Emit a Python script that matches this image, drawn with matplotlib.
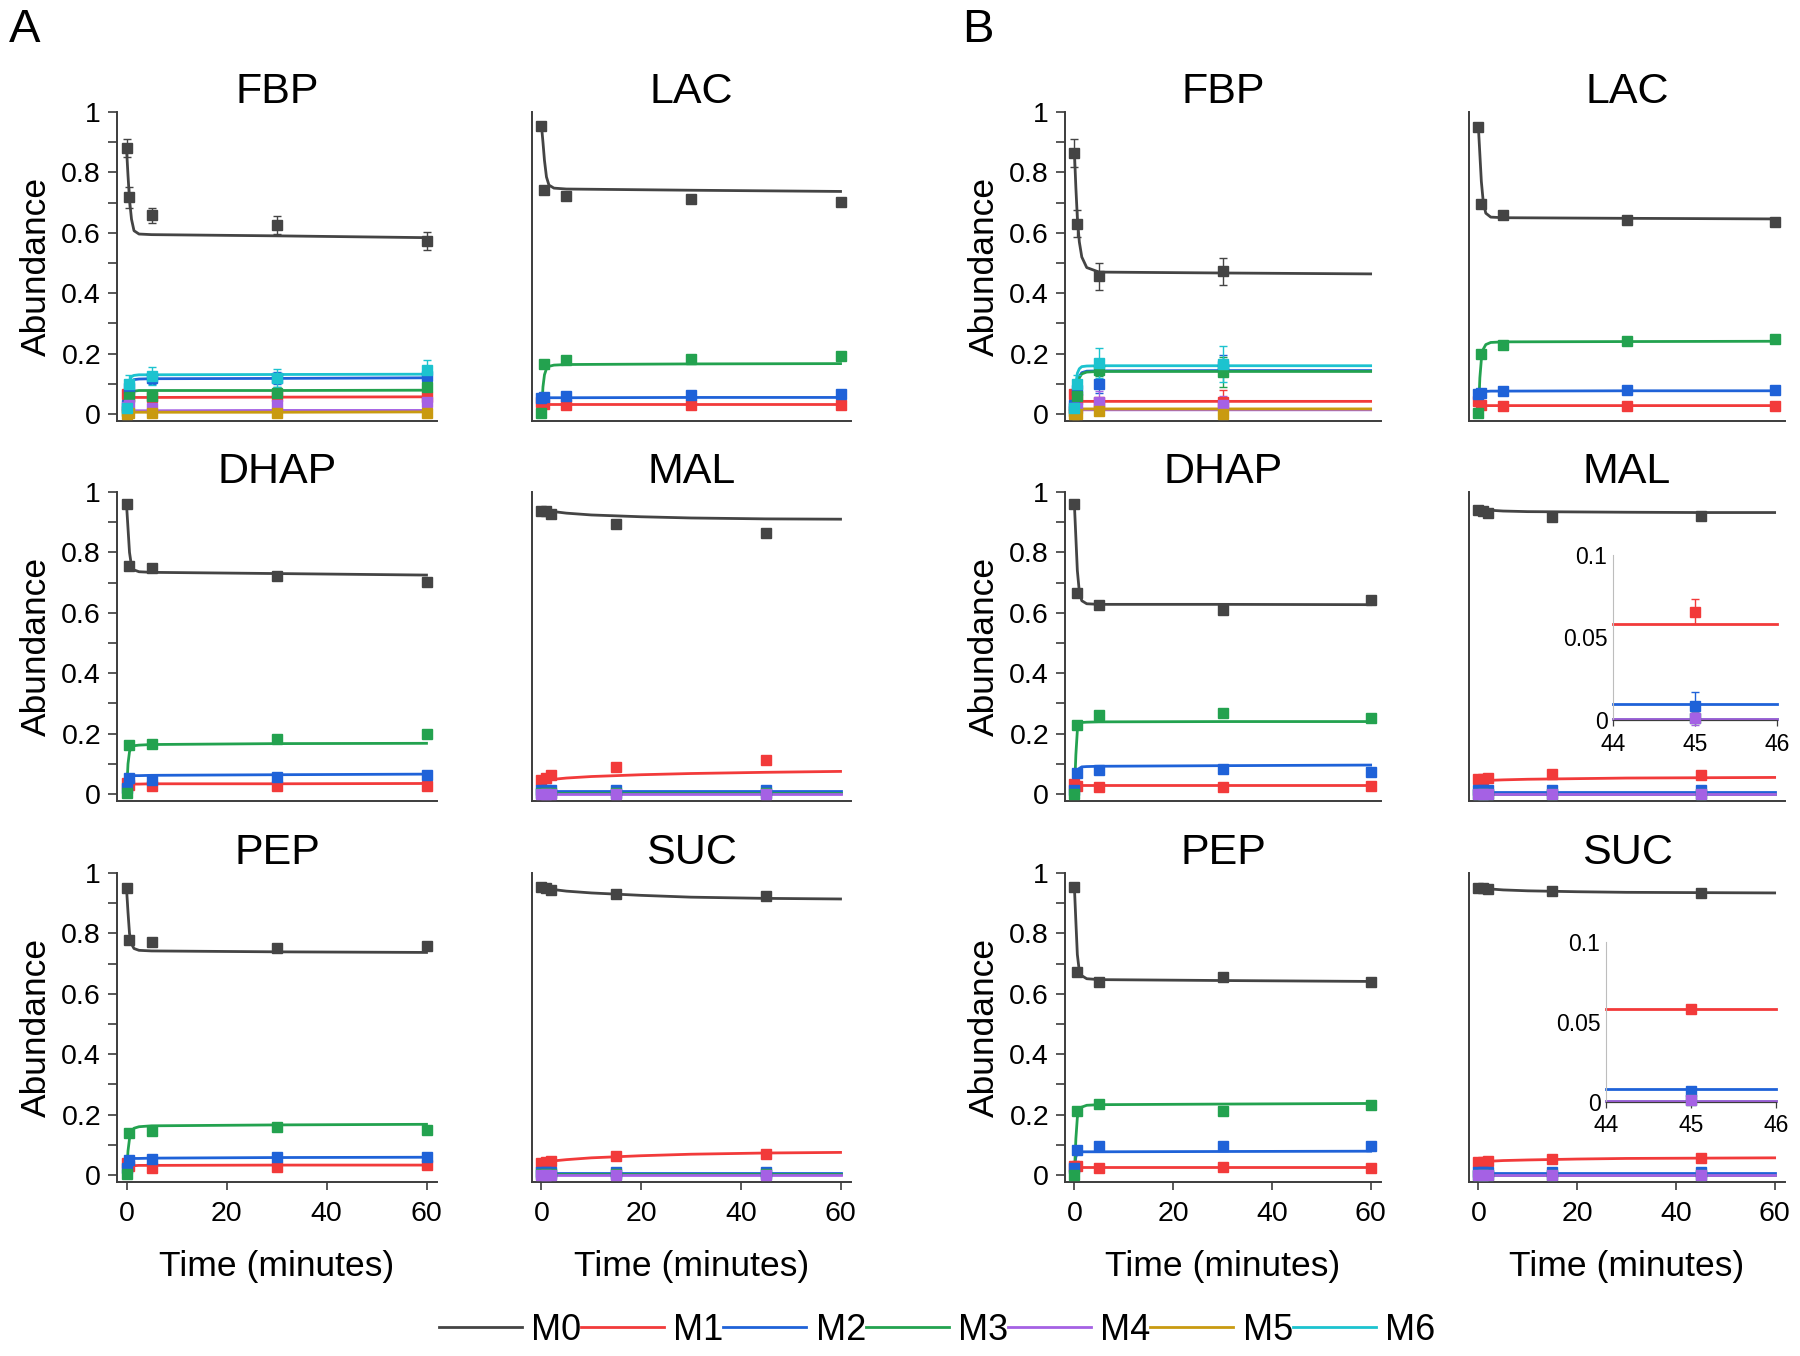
import matplotlib
matplotlib.use("Agg")
import matplotlib.pyplot as plt
from matplotlib.lines import Line2D

plt.rcParams["font.family"] = ["Liberation Sans", "DejaVu Sans"]

ISOTOPOLOGUES = ["M0", "M1", "M2", "M3", "M4", "M5", "M6"]
COLORS = {
    "M0": "#444444",
    "M1": "#f23a3a",
    "M2": "#1f62d8",
    "M3": "#23a24f",
    "M4": "#a561e4",
    "M5": "#c99a10",
    "M6": "#1cc3cf",
}

# sampling times (minutes)
T_GLY = [0, 0.5, 5, 30, 60]
T_GLY_B_FBP = [0, 0.5, 5, 30]
T_TCA = [0, 1, 2, 15, 45]
# time grid of the fitted curves
FIT_T_GLY = [0, 0.3, 0.6, 1, 1.5, 2.5, 5, 30, 60]
FIT_T_TCA = [0, 5, 10, 20, 30, 45, 60]

# ---- A ----
A_FBP_MEAN = {
    "M0": [0.881, 0.718, 0.658, 0.625, 0.572],
    "M1": [0.065, 0.060, 0.058, 0.060, 0.055],
    "M2": [0.030, 0.085, 0.118, 0.118, 0.125],
    "M3": [0.010, 0.055, 0.060, 0.070, 0.090],
    "M4": [0.025, 0.030, 0.020, 0.030, 0.040],
    "M5": [0.000, 0.005, 0.003, 0.003, 0.004],
    "M6": [0.020, 0.100, 0.125, 0.120, 0.145],
}
A_FBP_ERR = {
    "M0": [0.030, 0.035, 0.025, 0.030, 0.030],
    "M1": [0.010, 0.030, 0.010, 0.010, 0.010],
    "M2": [0.010, 0.020, 0.020, 0.020, 0.030],
    "M3": [0.010, 0.020, 0.020, 0.020, 0.020],
    "M4": [0.010, 0.010, 0.010, 0.010, 0.010],
    "M5": [0.005, 0.005, 0.005, 0.005, 0.005],
    "M6": [0.010, 0.030, 0.030, 0.030, 0.035],
}
A_FBP_FIT = {
    "M0": [0.880, 0.790, 0.710, 0.645, 0.607, 0.596, 0.594, 0.590, 0.584],
    "M1": [0.060, 0.058, 0.056, 0.055, 0.055, 0.055, 0.055, 0.056, 0.057],
    "M2": [0.010, 0.060, 0.090, 0.108, 0.114, 0.116, 0.117, 0.118, 0.120],
    "M3": [0.010, 0.040, 0.060, 0.072, 0.076, 0.078, 0.078, 0.078, 0.079],
    "M4": [0.010, 0.010, 0.011, 0.011, 0.011, 0.011, 0.011, 0.012, 0.012],
    "M5": [0.002, 0.004, 0.005, 0.006, 0.006, 0.006, 0.006, 0.006, 0.007],
    "M6": [0.020, 0.080, 0.110, 0.124, 0.128, 0.130, 0.130, 0.131, 0.132],
}

A_LAC_MEAN = {
    "M0": [0.955, 0.743, 0.721, 0.713, 0.702],
    "M1": [0.039, 0.034, 0.031, 0.031, 0.031],
    "M2": [0.053, 0.055, 0.061, 0.064, 0.067],
    "M3": [0.003, 0.167, 0.180, 0.182, 0.193],
}
A_LAC_FIT = {
    "M0": [0.955, 0.900, 0.840, 0.785, 0.758, 0.748, 0.745, 0.741, 0.737],
    "M1": [0.033, 0.033, 0.033, 0.033, 0.033, 0.033, 0.033, 0.033, 0.033],
    "M2": [0.050, 0.053, 0.054, 0.054, 0.054, 0.054, 0.054, 0.055, 0.055],
    "M3": [0.000, 0.090, 0.130, 0.150, 0.158, 0.162, 0.164, 0.166, 0.167],
}

A_DHAP_MEAN = {
    "M0": [0.960, 0.754, 0.747, 0.721, 0.701],
    "M1": [0.036, 0.030, 0.028, 0.028, 0.028],
    "M2": [0.020, 0.053, 0.047, 0.056, 0.064],
    "M3": [0.003, 0.163, 0.167, 0.182, 0.199],
}
A_DHAP_FIT = {
    "M0": [0.960, 0.880, 0.800, 0.755, 0.742, 0.736, 0.734, 0.730, 0.725],
    "M1": [0.033, 0.033, 0.033, 0.033, 0.033, 0.033, 0.034, 0.034, 0.035],
    "M2": [0.020, 0.050, 0.058, 0.060, 0.061, 0.061, 0.062, 0.064, 0.066],
    "M3": [0.000, 0.100, 0.140, 0.155, 0.160, 0.162, 0.164, 0.167, 0.168],
}

A_PEP_MEAN = {
    "M0": [0.950, 0.779, 0.770, 0.751, 0.757],
    "M1": [0.039, 0.030, 0.022, 0.028, 0.033],
    "M2": [0.022, 0.050, 0.053, 0.059, 0.061],
    "M3": [0.002, 0.138, 0.146, 0.158, 0.149],
}
A_PEP_FIT = {
    "M0": [0.950, 0.870, 0.800, 0.765, 0.750, 0.744, 0.742, 0.739, 0.737],
    "M1": [0.030, 0.031, 0.031, 0.031, 0.031, 0.032, 0.032, 0.033, 0.033],
    "M2": [0.020, 0.045, 0.052, 0.054, 0.055, 0.055, 0.056, 0.058, 0.059],
    "M3": [0.000, 0.080, 0.120, 0.145, 0.155, 0.160, 0.163, 0.166, 0.168],
}

A_MAL_MEAN = {
    "M0": [0.938, 0.936, 0.928, 0.895, 0.864],
    "M1": [0.047, 0.053, 0.064, 0.089, 0.114],
    "M2": [0.014, 0.014, 0.014, 0.014, 0.014],
    "M3": [0.002, 0.002, 0.002, 0.002, 0.002],
    "M4": [0.000, 0.000, 0.000, 0.000, 0.000],
}
A_MAL_FIT = {
    "M0": [0.940, 0.930, 0.924, 0.918, 0.914, 0.911, 0.910],
    "M1": [0.045, 0.053, 0.058, 0.064, 0.068, 0.072, 0.075],
    "M2": [0.009, 0.009, 0.009, 0.009, 0.009, 0.009, 0.009],
    "M3": [0.002, 0.002, 0.002, 0.002, 0.002, 0.002, 0.002],
    "M4": [0.001, 0.001, 0.001, 0.001, 0.001, 0.001, 0.001],
}

A_SUC_MEAN = {
    "M0": [0.952, 0.950, 0.945, 0.931, 0.923],
    "M1": [0.041, 0.044, 0.048, 0.063, 0.070],
    "M2": [0.011, 0.011, 0.011, 0.011, 0.011],
    "M3": [0.002, 0.002, 0.002, 0.002, 0.002],
    "M4": [0.001, 0.001, 0.001, 0.001, 0.001],
}
A_SUC_FIT = {
    "M0": [0.950, 0.940, 0.934, 0.926, 0.920, 0.916, 0.914],
    "M1": [0.043, 0.051, 0.057, 0.064, 0.069, 0.073, 0.075],
    "M2": [0.008, 0.008, 0.008, 0.008, 0.008, 0.008, 0.008],
    "M3": [0.002, 0.002, 0.002, 0.002, 0.002, 0.002, 0.002],
    "M4": [0.001, 0.001, 0.001, 0.001, 0.001, 0.001, 0.001],
}

# ---- B ----
B_FBP_MEAN = {
    "M0": [0.864, 0.630, 0.456, 0.472],
    "M1": [0.065, 0.050, 0.040, 0.040],
    "M2": [0.030, 0.080, 0.100, 0.160],
    "M3": [0.010, 0.060, 0.145, 0.140],
    "M4": [0.020, 0.020, 0.040, 0.030],
    "M5": [0.000, 0.000, 0.010, 0.000],
    "M6": [0.020, 0.100, 0.170, 0.165],
}
B_FBP_ERR = {
    "M0": [0.045, 0.045, 0.045, 0.045],
    "M1": [0.010, 0.010, 0.010, 0.040],
    "M2": [0.010, 0.020, 0.030, 0.035],
    "M3": [0.010, 0.020, 0.020, 0.050],
    "M4": [0.010, 0.010, 0.035, 0.030],
    "M5": [0.005, 0.005, 0.010, 0.010],
    "M6": [0.010, 0.030, 0.050, 0.060],
}
B_FBP_FIT = {
    "M0": [0.870, 0.750, 0.650, 0.570, 0.520, 0.485, 0.470, 0.467, 0.464],
    "M1": [0.060, 0.050, 0.045, 0.043, 0.042, 0.042, 0.042, 0.042, 0.042],
    "M2": [0.020, 0.070, 0.100, 0.125, 0.137, 0.142, 0.143, 0.144, 0.144],
    "M3": [0.005, 0.060, 0.095, 0.120, 0.133, 0.139, 0.141, 0.141, 0.141],
    "M4": [0.005, 0.010, 0.012, 0.013, 0.014, 0.014, 0.014, 0.014, 0.014],
    "M5": [0.002, 0.010, 0.014, 0.016, 0.017, 0.017, 0.017, 0.017, 0.017],
    "M6": [0.020, 0.100, 0.135, 0.150, 0.157, 0.159, 0.160, 0.160, 0.160],
}

B_LAC_MEAN = {
    "M0": [0.951, 0.697, 0.659, 0.644, 0.636],
    "M1": [0.042, 0.030, 0.027, 0.027, 0.027],
    "M2": [0.068, 0.070, 0.076, 0.080, 0.080],
    "M3": [0.005, 0.200, 0.230, 0.242, 0.250],
}
B_LAC_FIT = {
    "M0": [0.951, 0.860, 0.770, 0.700, 0.665, 0.652, 0.650, 0.648, 0.646],
    "M1": [0.030, 0.029, 0.028, 0.028, 0.028, 0.028, 0.028, 0.028, 0.028],
    "M2": [0.060, 0.068, 0.072, 0.074, 0.075, 0.076, 0.076, 0.077, 0.077],
    "M3": [0.000, 0.120, 0.180, 0.215, 0.230, 0.237, 0.239, 0.240, 0.241],
}

B_DHAP_MEAN = {
    "M0": [0.960, 0.666, 0.625, 0.610, 0.643],
    "M1": [0.034, 0.028, 0.023, 0.023, 0.028],
    "M2": [0.014, 0.070, 0.078, 0.083, 0.072],
    "M3": [0.000, 0.230, 0.263, 0.268, 0.252],
}
B_DHAP_FIT = {
    "M0": [0.960, 0.850, 0.740, 0.670, 0.640, 0.630, 0.628, 0.628, 0.627],
    "M1": [0.030, 0.030, 0.030, 0.030, 0.030, 0.030, 0.030, 0.030, 0.030],
    "M2": [0.015, 0.050, 0.075, 0.085, 0.090, 0.091, 0.092, 0.094, 0.096],
    "M3": [0.000, 0.130, 0.210, 0.232, 0.237, 0.238, 0.239, 0.240, 0.240],
}

B_PEP_MEAN = {
    "M0": [0.954, 0.672, 0.638, 0.657, 0.638],
    "M1": [0.030, 0.030, 0.025, 0.028, 0.025],
    "M2": [0.022, 0.083, 0.097, 0.097, 0.097],
    "M3": [0.000, 0.213, 0.235, 0.213, 0.232],
}
B_PEP_FIT = {
    "M0": [0.955, 0.840, 0.730, 0.675, 0.660, 0.650, 0.647, 0.644, 0.641],
    "M1": [0.028, 0.028, 0.028, 0.028, 0.028, 0.028, 0.028, 0.028, 0.028],
    "M2": [0.020, 0.060, 0.072, 0.076, 0.077, 0.077, 0.077, 0.078, 0.079],
    "M3": [0.000, 0.120, 0.190, 0.215, 0.225, 0.231, 0.233, 0.235, 0.237],
}

B_MAL_MEAN = {
    "M0": [0.940, 0.938, 0.932, 0.916, 0.921],
    "M1": [0.049, 0.049, 0.052, 0.068, 0.063],
    "M2": [0.015, 0.015, 0.015, 0.015, 0.015],
    "M3": [0.001, 0.001, 0.001, 0.001, 0.001],
    "M4": [0.000, 0.000, 0.000, 0.000, 0.000],
}
B_MAL_FIT = {
    "M0": [0.942, 0.937, 0.935, 0.934, 0.933, 0.932, 0.932],
    "M1": [0.044, 0.047, 0.049, 0.051, 0.053, 0.054, 0.055],
    "M2": [0.008, 0.008, 0.008, 0.008, 0.008, 0.008, 0.008],
    "M3": [0.001, 0.001, 0.001, 0.001, 0.001, 0.001, 0.001],
    "M4": [0.001, 0.001, 0.001, 0.001, 0.001, 0.001, 0.001],
}

B_SUC_MEAN = {
    "M0": [0.951, 0.950, 0.947, 0.940, 0.935],
    "M1": [0.044, 0.044, 0.046, 0.052, 0.057],
    "M2": [0.010, 0.010, 0.010, 0.010, 0.010],
    "M3": [0.001, 0.001, 0.001, 0.001, 0.001],
    "M4": [0.000, 0.000, 0.000, 0.000, 0.000],
}
B_SUC_FIT = {
    "M0": [0.950, 0.944, 0.941, 0.938, 0.936, 0.935, 0.934],
    "M1": [0.044, 0.048, 0.050, 0.053, 0.055, 0.056, 0.057],
    "M2": [0.008, 0.008, 0.008, 0.008, 0.008, 0.008, 0.008],
    "M3": [0.001, 0.001, 0.001, 0.001, 0.001, 0.001, 0.001],
    "M4": [0.001, 0.001, 0.001, 0.001, 0.001, 0.001, 0.001],
}

# zoomed insets around t = 45 min
INSET_FIT_T = [44, 46]
INSET_PT_T = [45]
B_MAL_INSET_FIT = {"M1": [0.058, 0.058], "M2": [0.010, 0.010], "M3": [0.0005, 0.0005], "M4": [0.0005, 0.0005]}
B_MAL_INSET_MEAN = {"M1": [0.0657], "M2": [0.0087], "M3": [0.0015], "M4": [0.0010]}
B_MAL_INSET_ERR = {"M1": [0.0075], "M2": [0.0080], "M3": [0.0010], "M4": [0.0040]}
B_SUC_INSET_FIT = {"M1": [0.058, 0.058], "M2": [0.0083, 0.0083], "M3": [0.0004, 0.0004], "M4": [0.0004, 0.0004]}
B_SUC_INSET_MEAN = {"M1": [0.058], "M2": [0.0069], "M3": [0.0010], "M4": [0.0010]}
B_SUC_INSET_ERR = {"M1": [0.0010], "M2": [0.0010], "M3": [0.0005], "M4": [0.0005]}

PANELS = [
    # row, col, title, times, mean, err, fit_t, fit
    (0, 0, "FBP", T_GLY, A_FBP_MEAN, A_FBP_ERR, FIT_T_GLY, A_FBP_FIT),
    (0, 1, "LAC", T_GLY, A_LAC_MEAN, None, FIT_T_GLY, A_LAC_FIT),
    (1, 0, "DHAP", T_GLY, A_DHAP_MEAN, None, FIT_T_GLY, A_DHAP_FIT),
    (1, 1, "MAL", T_TCA, A_MAL_MEAN, None, FIT_T_TCA, A_MAL_FIT),
    (2, 0, "PEP", T_GLY, A_PEP_MEAN, None, FIT_T_GLY, A_PEP_FIT),
    (2, 1, "SUC", T_TCA, A_SUC_MEAN, None, FIT_T_TCA, A_SUC_FIT),
    (0, 2, "FBP", T_GLY_B_FBP, B_FBP_MEAN, B_FBP_ERR, FIT_T_GLY, B_FBP_FIT),
    (0, 3, "LAC", T_GLY, B_LAC_MEAN, None, FIT_T_GLY, B_LAC_FIT),
    (1, 2, "DHAP", T_GLY, B_DHAP_MEAN, None, FIT_T_GLY, B_DHAP_FIT),
    (1, 3, "MAL", T_TCA, B_MAL_MEAN, None, FIT_T_TCA, B_MAL_FIT),
    (2, 2, "PEP", T_GLY, B_PEP_MEAN, None, FIT_T_GLY, B_PEP_FIT),
    (2, 3, "SUC", T_TCA, B_SUC_MEAN, None, FIT_T_TCA, B_SUC_FIT),
]

W, H = 1800, 1356
COL_PX = [(117, 437), (532, 851), (1065, 1381), (1469, 1785)]
ROW_PX = [(112, 421), (492, 801), (873, 1182)]
SPINE = "#3c3c3c"


def px_rect(x0, x1, y0, y1):
    return [x0 / W, 1 - y1 / H, (x1 - x0) / W, (y1 - y0) / H]


def draw_series(ax, times, mean, err, fit_t, fit, clip=True):
    for key in ISOTOPOLOGUES:
        if key not in mean:
            continue
        c = COLORS[key]
        ax.plot(fit_t, fit[key], color=c, lw=2.0, zorder=2, clip_on=clip)
        yerr = err[key] if err is not None else None
        ax.errorbar(times, mean[key], yerr=yerr, fmt="s", ms=6.5, color=c, ecolor=c,
                    elinewidth=1.0, capsize=3, capthick=1.0, zorder=3, clip_on=clip)


fig = plt.figure(figsize=(W / 100, H / 100), dpi=100)

for row, col, title, times, mean, err, fit_t, fit in PANELS:
    ax = fig.add_axes(px_rect(*COL_PX[col], *ROW_PX[row]))
    draw_series(ax, times, mean, err, fit_t, fit)
    ax.set_xlim(-1.9, 62.1)
    ax.set_ylim(-0.023, 1.0)
    for side in ("top", "right"):
        ax.spines[side].set_visible(False)
    for side in ("left", "bottom"):
        ax.spines[side].set_color(SPINE)
        ax.spines[side].set_linewidth(1.4)
    ax.set_title(title, fontsize=31, pad=-1)

    if col in (0, 2):
        ax.set_yticks([0, 0.2, 0.4, 0.6, 0.8, 1.0])
        ax.set_yticklabels(["0", "0.2", "0.4", "0.6", "0.8", "1"])
        ax.set_yticks([0.1, 0.3, 0.5, 0.7, 0.9], minor=True)
        ax.tick_params(axis="y", which="both", direction="out", length=6.5, width=1.2,
                       color=SPINE, labelsize=20.5, pad=5)
        ax.set_ylabel("Abundance", fontsize=25.5, labelpad=6)
    else:
        ax.set_yticks([])
        ax.tick_params(axis="y", which="both", left=False, labelleft=False)

    if row == 2:
        ax.set_xticks([0, 20, 40, 60])
        ax.tick_params(axis="x", direction="out", length=6, width=1.2, color=SPINE,
                       labelsize=20.5, pad=8)
        ax.set_xlabel("Time (minutes)", fontsize=25.5, labelpad=16)
    else:
        ax.set_xticks([])

INSETS = [
    ((1613, 1777, 555, 720), B_MAL_INSET_MEAN, B_MAL_INSET_ERR, B_MAL_INSET_FIT),
    ((1606, 1776, 942, 1102), B_SUC_INSET_MEAN, B_SUC_INSET_ERR, B_SUC_INSET_FIT),
]
for (x0, x1, y0, y1), mean, err, fit in INSETS:
    ins = fig.add_axes(px_rect(x0, x1, y0, y1))
    ins.patch.set_alpha(0)
    draw_series(ins, INSET_PT_T, mean, err, INSET_FIT_T, fit, clip=False)
    ins.set_xlim(44, 46)
    ins.set_ylim(0, 0.1)
    for side in ("top", "right"):
        ins.spines[side].set_visible(False)
    ins.spines["left"].set_color("#bdbdbd")
    ins.spines["left"].set_linewidth(0.8)
    ins.spines["bottom"].set_color(SPINE)
    ins.spines["bottom"].set_linewidth(0.9)
    ins.set_xticks([44, 45, 46])
    ins.set_yticks([0, 0.05, 0.1])
    ins.set_yticklabels(["0", "0.05", "0.1"])
    ins.tick_params(axis="x", length=4, width=0.9, color=SPINE, labelsize=16.5, pad=5)
    ins.tick_params(axis="y", length=0, labelsize=16.5, pad=4)

fig.text(9 / W, 1 - 8 / H, "A", fontsize=34, ha="left", va="top")
fig.text(962 / W, 1 - 8 / H, "B", fontsize=34, ha="left", va="top")

handles = [Line2D([], [], color=COLORS[k], lw=2.0) for k in ISOTOPOLOGUES]
fig.legend(handles, ISOTOPOLOGUES, loc="center", bbox_to_anchor=(937 / W, 1 - 1330 / H),
           ncol=7, frameon=False, fontsize=26, handlelength=2.3, handletextpad=0.25,
           columnspacing=0.0, borderpad=0)

fig.savefig("out.png", dpi=100)
